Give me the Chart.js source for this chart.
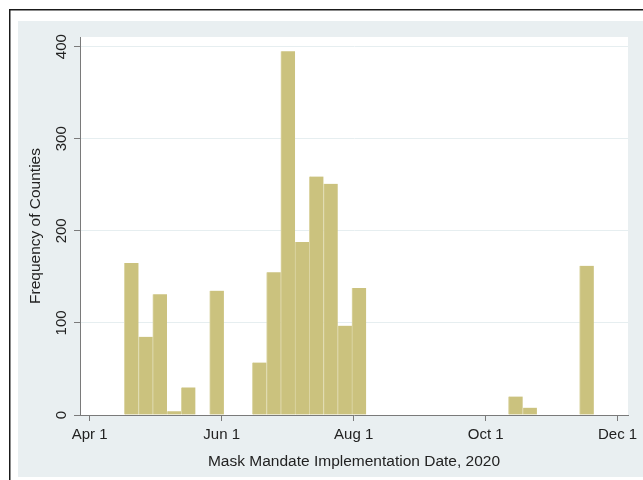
<!DOCTYPE html>
<html>
<head>
<meta charset="utf-8">
<script src="https://cdn.jsdelivr.net/npm/chart.js@4.4.1/dist/chart.umd.min.js"></script>
<style>
  html, body { margin: 0; padding: 0; background: #fff; }
  canvas { display: block; }
</style>
</head>
<body>
<canvas id="chart" width="643" height="480"></canvas>
<script>
// Histogram of county mask mandate start dates, 2020.
// Day numbers count from Apr 1 (day 0); 33 equal bins span Apr 17 .. Nov 20.
const firstBinStartDay = 16;   // Apr 17
const lastBinEndDay = 233;     // Nov 20
const countyCounts = [
  165, 85, 131, 4, 30, 0, 135, 0, 0, 57,
  155, 395, 188, 259, 251, 97, 138, 0, 0, 0,
  0, 0, 0, 0, 0, 0, 0, 20, 8, 0,
  0, 0, 162
];
const dateTickDays = [0, 61, 122, 183, 244];
const dateTickLabels = ['Apr 1', 'Jun 1', 'Aug 1', 'Oct 1', 'Dec 1'];
const countTicks = [0, 100, 200, 300, 400];

const binWidth = (lastBinEndDay - firstBinStartDay) / countyCounts.length;
const bins = countyCounts.map((v, i) => ({ x: firstBinStartDay + (i + 0.5) * binWidth, y: v }));

const FONT = '"Liberation Sans", Arial, Helvetica, sans-serif';
const TEXT = '#222';
const AXIS = '#7a7a7a';

// Page frame, bluish-gray graph region and white plot region
const framePlugin = {
  id: 'frame',
  beforeDraw(chart) {
    const { ctx, chartArea: a, width, height } = chart;
    ctx.save();
    ctx.fillStyle = '#fff';
    ctx.fillRect(0, 0, width, height);
    ctx.strokeStyle = '#1a1a1a';
    ctx.lineWidth = 1.5;
    ctx.strokeRect(9.75, 9.75, width + 20, height + 20);
    ctx.fillStyle = '#e9eff1';
    ctx.fillRect(18, 21, width - 18, 456);
    ctx.fillStyle = '#fff';
    ctx.fillRect(a.left, a.top, a.right - a.left, a.bottom - a.top);
    ctx.restore();
  }
};

new Chart(document.getElementById('chart'), {
  type: 'bar',
  data: {
    datasets: [{
      data: bins,
      backgroundColor: '#cbc27e',
      borderColor: '#ddd7a8',
      borderWidth: { left: 1, right: 0, top: 0, bottom: 0 },
      barPercentage: 1,
      categoryPercentage: 1
    }]
  },
  options: {
    responsive: false,
    devicePixelRatio: 1,
    animation: false,
    layout: { padding: { left: 18, top: 37, right: 15, bottom: 3 } },
    plugins: { legend: { display: false }, tooltip: { enabled: false } },
    scales: {
      x: {
        type: 'linear',
        offset: false,
        min: -4.48,
        max: 248.8,
        z: 1,
        afterBuildTicks(scale) { scale.ticks = dateTickDays.map(v => ({ value: v })); },
        afterFit(scale) { scale.height = 62; },
        grid: { offset: false, drawOnChartArea: false, tickLength: 6, tickColor: AXIS, tickWidth: 1 },
        border: { color: AXIS, width: 1 },
        ticks: {
          autoSkip: false, minRotation: 0, maxRotation: 0, padding: 5,
          color: TEXT, font: { family: FONT, size: 15 },
          callback: (v, i) => dateTickLabels[i]
        },
        title: {
          display: true, text: 'Mask Mandate Implementation Date, 2020',
          color: TEXT, font: { family: FONT, size: 15.5 },
          padding: { top: 0, bottom: 6 }
        }
      },
      y: {
        min: 0,
        max: 410.5,
        afterBuildTicks(scale) { scale.ticks = countTicks.map(v => ({ value: v })); },
        afterFit(scale) { scale.width = 62; },
        grid: { color: '#e6eef0', lineWidth: 1, tickLength: 6, tickColor: AXIS, tickWidth: 1 },
        border: { color: AXIS, width: 1 },
        ticks: {
          minRotation: 90, maxRotation: 90, crossAlign: 'center', padding: 0,
          color: TEXT, font: { family: FONT, size: 15 }
        },
        title: {
          display: true, text: 'Frequency of Counties',
          color: TEXT, font: { family: FONT, size: 15.5 },
          padding: { top: 8, bottom: 0 }
        }
      }
    }
  },
  plugins: [framePlugin]
});
</script>
</body>
</html>
